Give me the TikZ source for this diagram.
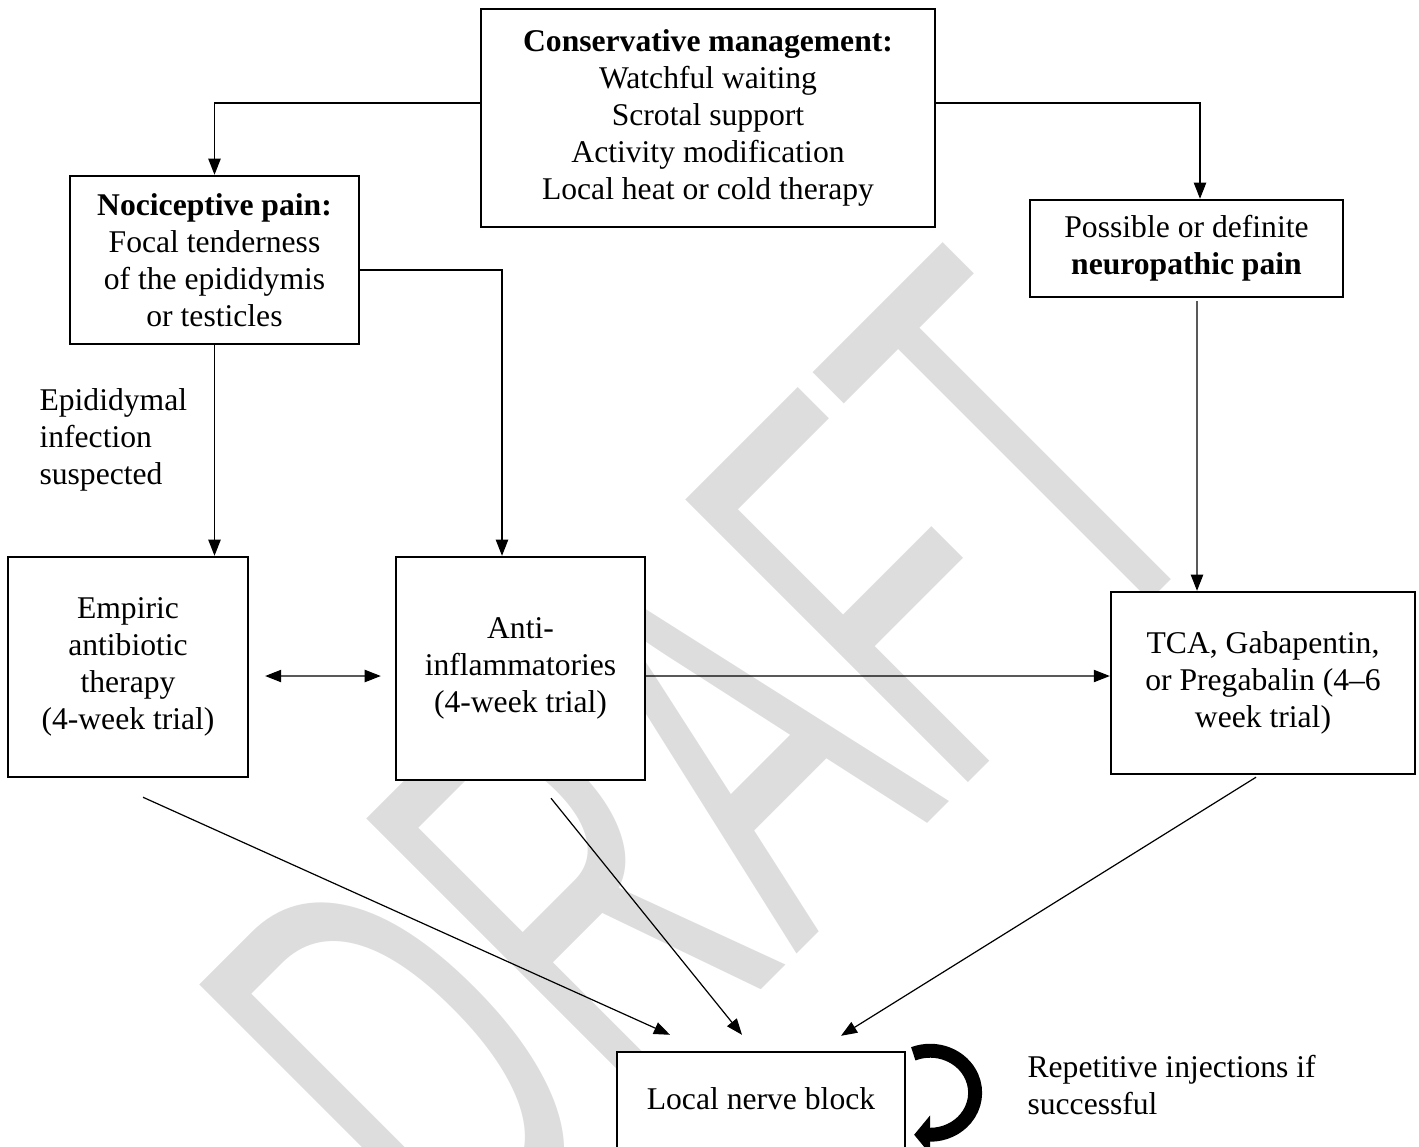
\documentclass[tikz,border=0pt]{standalone}
\usepackage{fontspec}
\setmainfont{Liberation Serif}
\newfontfamily\wmfont{Liberation Sans}
\usepackage{graphicx}
\usepackage{tikz}
\usetikzlibrary{calc, arrows.meta}
\definecolor{wmgray}{RGB}{221,221,221}

\begin{document}
\begin{tikzpicture}[x=0.3731pt, y=-0.3731pt,
		font=\fontsize{11.8pt}{13.8pt}\selectfont,
		>={Triangle[length=6pt, width=4.6pt]},
		box/.style={rectangle, draw, line width=0.9pt, fill=white, align=center, inner sep=2pt},
		link/.style={line width=0.45pt, ->},
		note/.style={anchor=north west, align=left, inner sep=0pt}]
		\useasboundingbox (0,0) rectangle (1419,1146);
		\clip (0,0) rectangle (1419,1146);
		\node at (706,762) [rotate=45, inner sep=0pt, text=wmgray, font=\wmfont\fontsize{216.8pt}{216.8pt}\selectfont] (wm) {\scalebox{0.56}[1]{DRAFT}};
		\node at (708,118) [box, minimum width=169.4pt, minimum height=81.3pt] (cm100) {\textbf{Conservative management:}\\Watchful waiting\\Scrotal support\\Activity modification\\Local heat or cold therapy};
		\node at (214.5,260) [box, minimum width=107.8pt, minimum height=62.7pt] (noci100) {\textbf{Nociceptive pain:}\\Focal tenderness\\of the epididymis\\or testicles};
		\node at (1186.5,248.5) [box, minimum width=116.8pt, minimum height=36.2pt] (neu100) {Possible or definite\\\textbf{neuropathic pain}};
		\node at (128,667) [box, minimum width=89.5pt, minimum height=82.1pt] (emp100) {Empiric\\antibiotic\\therapy\\(4-week trial)};
		\node at (520.5,668.5) [box, minimum width=92.9pt, minimum height=83.2pt] (anti100) {Anti-\\inflammatories\\(4-week trial)};
		\node at (1263,683) [box, minimum width=113.4pt, minimum height=67.9pt] (tca100) {TCA, Gabapentin,\\or Pregabalin (4\textendash6\\week trial)};
		\node at (761,1106) [box, minimum width=107.5pt, inner sep=0pt, text height=21.6pt, text depth=18.7pt] (nb100) {Local nerve block};
		\node at (39,388) [note] (epi100) {Epididymal\\infection\\suspected};
		\node at (1027,1055) [note] (rep100) {Repetitive injections if\\successful};
		\draw[link] ($(cm100.west)+(0,-15)$) -| (noci100.north);
		\draw[link] ($(cm100.east)+(0,-15)$) -| ($(neu100.north)+(13.5,0)$);
		\draw[link] (noci100.south) -- (noci100.south |- emp100.north);
		\draw[link] ($(noci100.east)+(0,10)$) -| ($(anti100.north)+(-18.5,0)$);
		\draw[link] ($(neu100.south)+(10.5,3)$) -- ($(tca100.north)+(-66,0)$);
		\draw[link, <->] ($(emp100.east)+(16,9)$) -- ($(anti100.west)+(-14,7.5)$);
		\draw[link] ($(anti100.east)+(0,7.5)$) -- ($(tca100.west)+(0,-7)$);
		\draw[link] ($(emp100.south)+(15,19)$) -- ($(nb100.north)+(-91,-16)$);
		\draw[link] ($(anti100.south)+(30.5,17)$) -- ($(nb100.north)+(-19,-16)$);
		\draw[link] ($(tca100.south)+(-7,2)$) -- ($(nb100.north)+(80,-15)$);
		\draw[line width=5.2pt, -{Triangle[length=6pt, width=14.2pt]}] ($(nb100.north east)+(7,3)$) arc[start angle=-112, end angle=90, x radius=45, y radius=42] -- ++(-16,0);
\end{tikzpicture}
\end{document}
